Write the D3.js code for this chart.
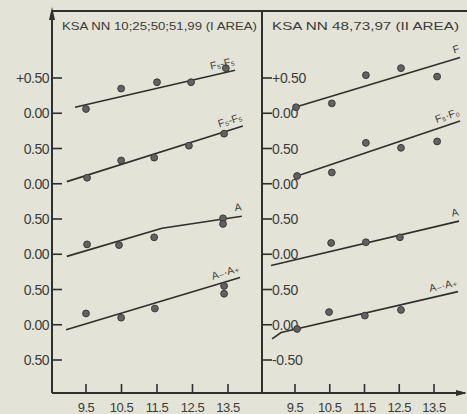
<!DOCTYPE html>
<html>
<head>
<meta charset="utf-8">
<script src="https://cdn.jsdelivr.net/npm/d3@7"></script>
<style>
  html, body { margin: 0; padding: 0; background: #e3e3d7; }
  svg { display: block; }
  text { font-family: "Liberation Sans", "DejaVu Sans", sans-serif; fill: #3c3c3a; }
</style>
</head>
<body>
<div id="visual"></div>
<script>
// two panels, four offset rows each (0.00 baseline of each row shifted by -1.0)

const xTicks = [9.5, 10.5, 11.5, 12.5, 13.5];
const xTickLabels = ["9.5", "10.5", "11.5", "12.5", "13.5"];

const yTicks = [0.5, 0, -0.5, -1, -1.5, -2, -2.5, -3, -3.5];
const yLabelsI = ["+0.50", "0.00", "0.50", "0.00", "0.50", "0.00", "0.50", "0.00", "0.50"];
const yLabelsII = ["+0.50", "0.00", "0.50", "0.00", "0.50", "0.00", "0.50", "0.00", "-0.50"];

const rowZero = [0, -1, -2, -3];

// I area
const titleI = "KSA NN 10;25;50;51,99 (I AREA)";
const namesI = ["F\u2085-F\u2085", "F\u2085-F\u2085", "A", "A\u208B\u00B7A\u208A"];
const ptXI = [
  [9.5, 10.49, 11.5, 12.46, 13.44],
  [9.53, 10.49, 11.42, 12.4, 13.39],
  [9.53, 10.43, 11.42, 13.36, 13.36],
  [9.5, 10.49, 11.44, 13.39, 13.39]
];
const ptYI = [
  [0.06, 0.35, 0.44, 0.44, 0.64],
  [0.085, 0.33, 0.37, 0.54, 0.71],
  [0.14, 0.13, 0.24, 0.51, 0.43],
  [0.16, 0.10, 0.23, 0.55, 0.44]
];
const fitXI = [[9.19, 13.7], [8.96, 13.92], [8.96, 11.64, 13.89], [8.94, 13.84]];
const fitYI = [[0.085, 0.61], [0.03, 0.82], [-0.03, 0.37, 0.54], [-0.07, 0.67]];

// II area
const titleII = "KSA NN 48,73,97 (II AREA)";
const namesII = ["F", "F\u2085\u00B7F\u2080", "A", "A\u208B\u00B7A\u208A"];
const ptXII = [
  [9.53, 10.56, 11.54, 12.55, 13.59],
  [9.56, 10.56, 11.54, 12.55, 13.59],
  [10.54, 11.54, 12.52],
  [9.56, 10.48, 11.51, 12.55]
];
const ptYII = [
  [0.085, 0.14, 0.54, 0.64, 0.52],
  [0.11, 0.16, 0.58, 0.51, 0.60],
  [0.16, 0.17, 0.24],
  [-0.06, 0.18, 0.13, 0.21]
];
const fitXII = [[9.5, 14.25], [9.56, 14.25], [8.81, 14.22], [8.84, 9.1, 14.19]];
const fitYII = [[0.085, 0.79], [0.11, 0.89], [-0.16, 0.47], [-0.20, -0.11, 0.47]];

const W = 467, H = 414;
const frameTop = 10, frameBottom = 393, leftAxis = 52, midAxis = 262, rightEnd = 465;
const ink = "#2f2f2d";

const svg = d3.select("#visual").append("svg")
  .attr("width", W).attr("height", H);

svg.append("rect").attr("width", W).attr("height", H).attr("fill", "#e3e3d7");

const y = d3.scaleLinear().domain([0.5, -3.5]).range([78, 360]);

// frame
svg.append("path")
  .attr("d", `M${leftAxis},${frameBottom}V${frameTop + 1}M${leftAxis},${frameTop + 1}H${W}` +
             `M${midAxis},${frameTop}V${frameBottom}M${leftAxis},${frameBottom}H${rightEnd}`)
  .attr("stroke", ink).attr("stroke-width", 2).attr("fill", "none");
// arrows
svg.append("path")
  .attr("d", `M${leftAxis - 3},${frameTop + 10}L${leftAxis},${frameTop - 3}L${leftAxis + 3},${frameTop + 10}Z`)
  .attr("fill", ink);
svg.append("path")
  .attr("d", `M${rightEnd - 9},${frameBottom - 3}L${rightEnd + 2},${frameBottom}L${rightEnd - 9},${frameBottom + 3}Z`)
  .attr("fill", ink);

function panel(axisX, x, title, titleLen, yLabels, labelSide, names, ptX, ptY, fitX, fitY) {
  const g = svg.append("g");

  g.append("text")
    .attr("x", axisX + 10).attr("y", 30)
    .attr("font-size", "10.5px")
    .attr("textLength", titleLen).attr("lengthAdjust", "spacingAndGlyphs")
    .text(title);

  // y ticks
  g.selectAll(".yt").data(yTicks).enter().append("line")
    .attr("x1", axisX).attr("x2", axisX + 10)
    .attr("y1", d => y(d)).attr("y2", d => y(d))
    .attr("stroke", ink).attr("stroke-width", 1.6);

  g.selectAll(".yl").data(yTicks).enter().append("text")
    .attr("x", labelSide === "left" ? axisX - 3 : axisX + 10)
    .attr("y", d => y(d) + 5)
    .attr("text-anchor", labelSide === "left" ? "end" : "start")
    .attr("font-size", "14px")
    .attr("letter-spacing", labelSide === "left" ? "-0.5px" : "-0.3px")
    .text((d, i) => yLabels[i]);

  // x ticks
  g.selectAll(".xt").data(xTicks).enter().append("line")
    .attr("x1", d => x(d)).attr("x2", d => x(d))
    .attr("y1", frameBottom - 9).attr("y2", frameBottom)
    .attr("stroke", ink).attr("stroke-width", 1.6);

  g.selectAll(".xl").data(xTicks).enter().append("text")
    .attr("x", d => x(d)).attr("y", 412)
    .attr("text-anchor", "middle")
    .attr("font-size", "13px")
    .attr("letter-spacing", "-0.5px")
    .text((d, i) => xTickLabels[i]);

  const line = d3.line();

  names.forEach((name, r) => {
    const off = rowZero[r];
    const pts = fitX[r].map((v, i) => [x(v), y(fitY[r][i] + off)]);

    g.append("path")
      .attr("d", line(pts))
      .attr("fill", "none").attr("stroke", ink).attr("stroke-width", 1.6);

    g.selectAll(".p" + r).data(ptX[r]).enter().append("circle")
      .attr("cx", d => x(d))
      .attr("cy", (d, i) => y(ptY[r][i] + off))
      .attr("r", 3.4)
      .attr("fill", "#626260").attr("stroke", "#3a3a38").attr("stroke-width", 1);

    // label sits above the end of the fit line, following its slope
    const a = pts[pts.length - 2], b = pts[pts.length - 1];
    const ang = Math.atan2(b[1] - a[1], b[0] - a[0]) * 180 / Math.PI;
    g.append("text")
      .attr("transform", `translate(${b[0]},${b[1] - 6}) rotate(${ang})`)
      .attr("text-anchor", "end")
      .attr("font-size", "10.5px")
      .text(name);
  });
}

const xI = d3.scaleLinear().domain([9.5, 13.5]).range([86, 228]);
const xII = d3.scaleLinear().domain([9.5, 13.5]).range([295, 434]);

panel(leftAxis, xI, titleI, 195, yLabelsI, "left", namesI, ptXI, ptYI, fitXI, fitYI);
panel(midAxis, xII, titleII, 187, yLabelsII, "right", namesII, ptXII, ptYII, fitXII, fitYII);
</script>
</body>
</html>
